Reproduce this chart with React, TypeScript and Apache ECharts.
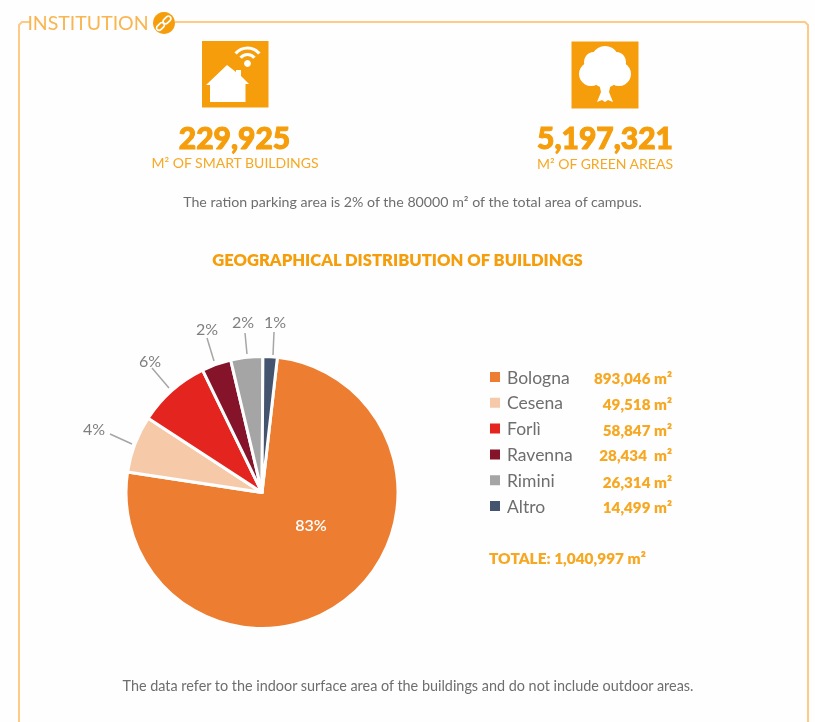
import React, { useEffect, useRef } from "react";
import * as echarts from "echarts";

const categories = ["Bologna", "Cesena", "Forlì", "Ravenna", "Rimini", "Altro"];
// Angular shares as drawn in the picture (percent of the circle)
const drawnShares = [75.6, 6.8, 8.6, 3.5, 3.8, 1.7];
const pieLabels = ["83%", "4%", "6%", "2%", "2%", "1%"];
const areaLabels = ["893,046 m²", "49,518 m²", "58,847 m²", "28,434  m²", "26,314 m²", "14,499 m²"];
const colors = ["#ED7D31", "#F6C9A9", "#E4241F", "#85142B", "#A5A5A5", "#44546F"];

const labelPositions = [[311, 524], [94, 428], [150, 360], [207, 328], [243, 321], [275, 321]];
const labelLines = [
  null,
  [[132, 444], [110, 434]],
  [[169, 388], [152, 368]],
  [[214, 361], [207, 338]],
  [[247, 354], [245, 333]],
  [[273, 355], [274, 332]],
];

const ORANGE = "#F59D0A";
const TEXT_ORANGE = "#F7A823";
const FRAME = "#FDCB85";
const GREY = "#6E6E6E";
const FONT = "Lato";

const legendRowY = [378, 404, 430, 455, 482, 507];

function txt(x: number, y: number, text: string, size: number, fill: string, weight: any = 400, align = "center", extra: any = {}) {
  return {
    type: "text", x, y,
    style: { text, fontSize: size, fontFamily: FONT, fontWeight: weight, fill, align, verticalAlign: "middle", ...extra },
  };
}
const circle = (cx: number, cy: number, r: number, fill = "#fff") => ({ type: "circle", shape: { cx, cy, r }, style: { fill } });
const chainLink = (x: number, y: number) => ({
  type: "rect", x, y, rotation: Math.PI / 4,
  shape: { x: -4.5, y: -2.5, width: 9, height: 5, r: 2.5 },
  style: { stroke: "#fff", lineWidth: 1.7, fill: "none" },
});
const wifiArc = (r: number) => ({
  type: "arc",
  shape: { cx: 247.5, cy: 63.5, r, startAngle: (-140 * Math.PI) / 180, endAngle: (-40 * Math.PI) / 180, clockwise: true },
  style: { stroke: "#fff", lineWidth: 3.2, fill: "none" },
});
const heavy = { stroke: ORANGE, lineWidth: 1 };

export default function App() {
  const ref = useRef<HTMLDivElement>(null);
  useEffect(() => {
    document.body.style.margin = "0";
    const chart = echarts.init(ref.current!, null, { renderer: "svg" });
    chart.setOption({
      animation: false,
      backgroundColor: "#FEFEFE",
      legend: {
        orient: "vertical",
        left: 483,
        top: 363,
        itemWidth: 12,
        itemHeight: 12,
        itemGap: 7.8,
        data: categories,
        selectedMode: false,
        icon: "rect",
        textStyle: { fontFamily: FONT, fontSize: 17.5, color: GREY, padding: [0, 0, 0, 1], height: 18, lineHeight: 18 },
      },
      series: [
        {
          type: "pie",
          center: [262, 492.5],
          radius: [0, 136],
          startAngle: 83.5,
          clockwise: true,
          avoidLabelOverlap: false,
          itemStyle: { borderColor: "#FEFEFE", borderWidth: 3 },
          label: {
            show: true,
            fontFamily: FONT,
            fontSize: 16,
            color: "#7F7F7F",
            formatter: (p: any) => pieLabels[p.dataIndex],
          },
          labelLine: { show: true, lineStyle: { color: "#A6A6A6", width: 1.5 } },
          labelLayout: (p: any) => ({
            x: labelPositions[p.dataIndex][0],
            y: labelPositions[p.dataIndex][1],
            align: "center",
            verticalAlign: "middle",
            labelLinePoints: labelLines[p.dataIndex]
              ? [labelLines[p.dataIndex]![0], labelLines[p.dataIndex]![0], labelLines[p.dataIndex]![1]]
              : undefined,
          }),
          data: categories.map((name, i) => ({
            name,
            value: drawnShares[i],
            itemStyle: { color: colors[i] },
            ...(i === 0
              ? { label: { color: "#fff", fontWeight: 600 }, labelLine: { show: false } }
              : {}),
          })),
        },
      ],
      graphic: {
        elements: [
          // frame
          { type: "polyline", shape: { points: [[30, 22], [22, 22], [19, 25], [19, 722]] }, style: { stroke: FRAME, lineWidth: 2, fill: "none" } },
          { type: "polyline", shape: { points: [[175, 22], [805, 22], [808, 25], [808, 722]] }, style: { stroke: FRAME, lineWidth: 2, fill: "none" } },
          txt(88, 22.5, "INSTITUTION", 19.5, "#F9B550", 400),
          circle(164, 23, 11, ORANGE),
          chainLink(160.5, 26.5),
          chainLink(167, 20),
          // smart-building icon
          { type: "rect", shape: { x: 202, y: 41, width: 66.5, height: 66.5 }, style: { fill: ORANGE } },
          {
            type: "polygon",
            shape: { points: [[227, 65], [236, 72], [236, 70], [241, 70], [241, 76], [249, 84], [245.5, 84], [245.5, 102], [210, 102], [210, 85], [206, 85]] },
            style: { fill: "#fff" },
          },
          circle(247.5, 63.5, 3.4),
          wifiArc(9),
          wifiArc(15.5),
          // green-area icon
          { type: "rect", shape: { x: 571.5, y: 41.5, width: 67, height: 67 }, style: { fill: ORANGE } },
          circle(605, 60, 14), circle(594, 62, 10), circle(616, 62, 10),
          circle(591, 74, 12), circle(619, 74, 12), circle(605, 74, 14),
          {
            type: "polygon",
            shape: { points: [[599, 83], [611, 83], [609, 92], [613, 102], [608, 100], [605, 102], [602, 100], [597, 102], [601, 92]] },
            style: { fill: "#fff" },
          },
          // headline figures
          txt(234.5, 137, "229,925", 30, ORANGE, 900, "center", heavy),
          txt(235, 162, "M² OF SMART BUILDINGS", 14, TEXT_ORANGE, 400),
          txt(605, 137, "5,197,321", 30, ORANGE, 900, "center", heavy),
          txt(605, 163, "M² OF GREEN AREAS", 14, TEXT_ORANGE, 400),
          txt(412.5, 201, "The ration parking area is 2% of the 80000 m² of the total area of campus.", 14.2, GREY),
          txt(397.5, 260, "GEOGRAPHICAL DISTRIBUTION OF BUILDINGS", 16.6, ORANGE, 800),
          // legend values
          ...areaLabels.map((t, i) => txt(672, legendRowY[i], t, 15.2, TEXT_ORANGE, 800, "right")),
          txt(489, 558, "TOTALE: 1,040,997 m²", 15.4, TEXT_ORANGE, 800, "left"),
          txt(408, 685, "The data refer to the indoor surface area of the buildings and do not include outdoor areas.", 14.4, GREY),
        ],
      },
    });
    return () => chart.dispose();
  }, []);
  return <div ref={ref} style={{ position: "absolute", left: 0, top: 0, width: 815, height: 722, overflow: "hidden", filter: "blur(0.5px)" }} />;
}
